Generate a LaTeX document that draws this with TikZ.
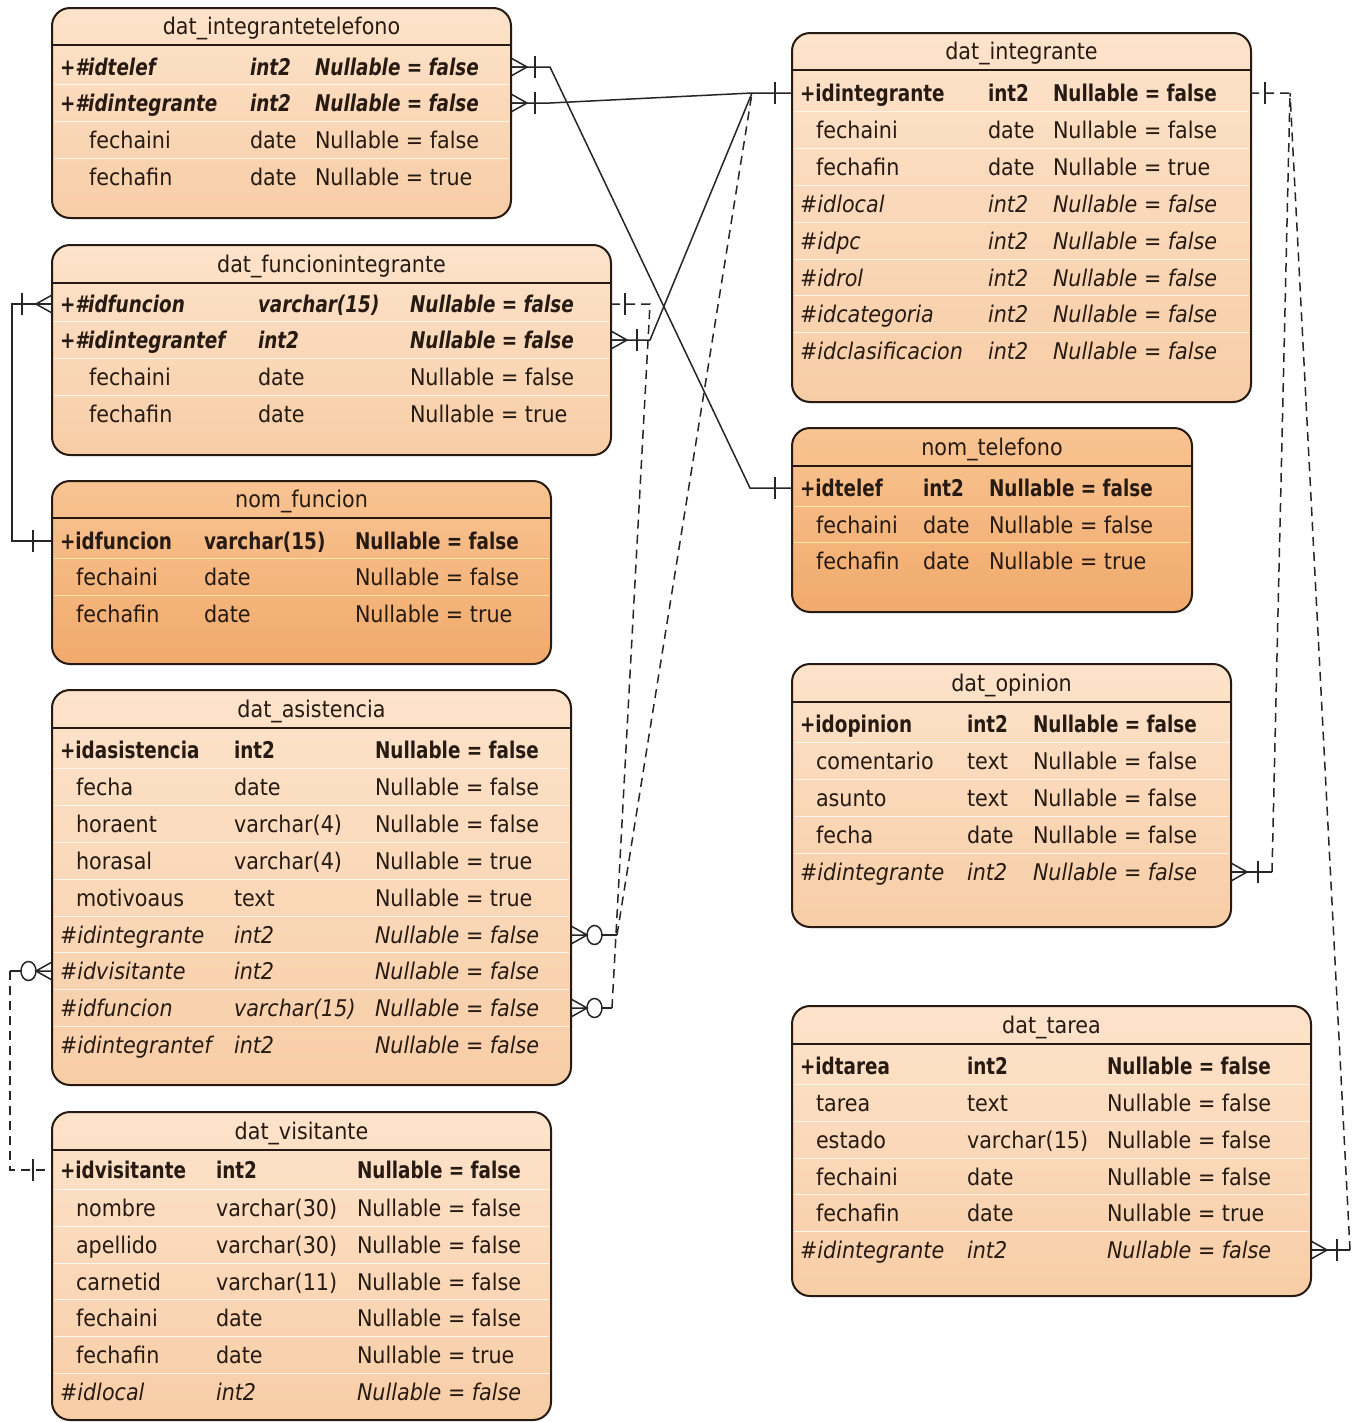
\documentclass[tikz,border=0pt]{standalone}
\usepackage{fontspec}
\setmainfont{DejaVu Sans}[FakeStretch=0.9,BoldFeatures={FakeStretch=0.8},BoldItalicFeatures={FakeStretch=0.8}]
\usetikzlibrary{calc}

\definecolor{ink}{RGB}{38,26,18}
\definecolor{lightTop}{RGB}{253,227,203}
\definecolor{lightBot}{RGB}{247,205,166}
\definecolor{darkTop}{RGB}{248,196,146}
\definecolor{darkBot}{RGB}{241,170,108}
\definecolor{rowsepL}{RGB}{255,247,238}
\definecolor{rowsepD}{RGB}{255,232,165}

\tikzset{
  tbox/.style={draw=ink, line width=2pt, rounded corners=18pt, inner sep=0pt, outer sep=0pt},
  tblL/.style={top color=lightTop, bottom color=lightBot},
  tblD/.style={top color=darkTop, bottom color=darkBot},
  hline/.style={draw=ink, line width=2pt},
  rowsep/.style={line width=1.3pt},
  cell/.style={anchor=base west, inner sep=0pt, outer sep=0pt, text=ink,
               font=\fontsize{23}{27}\selectfont},
  rel/.style={draw=black!85, line width=1.5pt},
  reld/.style={rel, dash pattern=on 9pt off 6pt},
  crowfoot/.pic={\draw[rel] (0,-9) -- (16,0) -- (0,9) (0,0) -- (16,0);},
  onebar/.pic={\draw[rel] (0,-11) -- (0,11);},
  zero/.pic={\draw[rel] (0,0) ellipse [x radius=7.5pt, y radius=9.5pt];},
}

% table frame: name, x1, y1, x2, y2, header line y, title, L/D
\newcommand\etable[8]{%
  \def\tx{#2}\def\tX{#4}\def\sepc{rowsep#8}%
  \node[tbox,tbl#8,anchor=north west,
        minimum width={(#4-#2)*1pt},minimum height={(#5-#3)*1pt}] (#1) at (#2,#3) {};
  \draw[hline] (#2+1,#6) -- (#4-1,#6);
  \node[cell,anchor=base] (#1-title) at ({(#2+#4)/2},#6-11) {#7};
}
\newcommand\ecols[3]{\def\ca{#1}\def\cb{#2}\def\cc{#3}}
% table row: table, index, y, font switch, column name, type, nullability
\newcommand\erow[7]{%
  \coordinate (#1-#2) at (\ca,#3);
  \ifnum#2>1 \draw[rowsep,draw=\sepc] (\tx+2,#3-18.5) -- (\tX-2,#3-18.5);\fi
  \node[cell] (#1-#2-n) at (\ca,#3+8) {#4#5};
  \node[cell] (#1-#2-t) at (\cb,#3+8) {#4#6};
  \node[cell] (#1-#2-v) at (\cc,#3+8) {#4#7};
}
\newcommand\indA{\hspace*{16pt}}
\newcommand\indB{\hspace*{29pt}}
\newcommand\NF{Nullable = false}
\newcommand\NT{Nullable = true}

\begin{document}
\begin{tikzpicture}[x=1pt,y=-1pt]
\useasboundingbox[fill=white] (0,0) rectangle (1367,1422);

% ---------- dat_integrantetelefono ----------
\etable{iT}{52}{8}{511}{218}{45}{dat\_integrantetelefono}{L}
\ecols{60}{250}{315}
\erow{iT}{1}{67}{\bfseries\itshape}{+\#idtelef}{int2}{\NF}
\erow{iT}{2}{103}{\bfseries\itshape}{+\#idintegrante}{int2}{\NF}
\erow{iT}{3}{140}{}{\indB fechaini}{date}{\NF}
\erow{iT}{4}{177}{}{\indB fechafin}{date}{\NT}

% ---------- dat_funcionintegrante ----------
\etable{fI}{52}{245}{611}{455}{283}{dat\_funcionintegrante}{L}
\ecols{60}{258}{410}
\erow{fI}{1}{304}{\bfseries\itshape}{+\#idfuncion}{varchar(15)}{\NF}
\erow{fI}{2}{340}{\bfseries\itshape}{+\#idintegrantef}{int2}{\NF}
\erow{fI}{3}{377}{}{\indB fechaini}{date}{\NF}
\erow{fI}{4}{414}{}{\indB fechafin}{date}{\NT}

% ---------- nom_funcion ----------
\etable{nF}{52}{481}{551}{664}{518}{nom\_funcion}{D}
\ecols{60}{204}{355}
\erow{nF}{1}{541}{\bfseries}{+idfuncion}{varchar(15)}{\NF}
\erow{nF}{2}{577}{}{\indA fechaini}{date}{\NF}
\erow{nF}{3}{614}{}{\indA fechafin}{date}{\NT}

% ---------- dat_asistencia ----------
\etable{dA}{52}{690}{571}{1085}{728}{dat\_asistencia}{L}
\ecols{60}{234}{375}
\erow{dA}{1}{750}{\bfseries}{+idasistencia}{int2}{\NF}
\erow{dA}{2}{787}{}{\indA fecha}{date}{\NF}
\erow{dA}{3}{824}{}{\indA horaent}{varchar(4)}{\NF}
\erow{dA}{4}{861}{}{\indA horasal}{varchar(4)}{\NT}
\erow{dA}{5}{898}{}{\indA motivoaus}{text}{\NT}
\erow{dA}{6}{935}{\itshape}{\#idintegrante}{int2}{\NF}
\erow{dA}{7}{971}{\itshape}{\#idvisitante}{int2}{\NF}
\erow{dA}{8}{1008}{\itshape}{\#idfuncion}{varchar(15)}{\NF}
\erow{dA}{9}{1045}{\itshape}{\#idintegrantef}{int2}{\NF}

% ---------- dat_visitante ----------
\etable{dV}{52}{1112}{551}{1420}{1150}{dat\_visitante}{L}
\ecols{60}{216}{357}
\erow{dV}{1}{1170}{\bfseries}{+idvisitante}{int2}{\NF}
\erow{dV}{2}{1208}{}{\indA nombre}{varchar(30)}{\NF}
\erow{dV}{3}{1245}{}{\indA apellido}{varchar(30)}{\NF}
\erow{dV}{4}{1282}{}{\indA carnetid}{varchar(11)}{\NF}
\erow{dV}{5}{1318}{}{\indA fechaini}{date}{\NF}
\erow{dV}{6}{1355}{}{\indA fechafin}{date}{\NT}
\erow{dV}{7}{1392}{\itshape}{\#idlocal}{int2}{\NF}

% ---------- dat_integrante ----------
\etable{dI}{792}{33}{1251}{402}{70}{dat\_integrante}{L}
\ecols{800}{988}{1053}
\erow{dI}{1}{93}{\bfseries}{+idintegrante}{int2}{\NF}
\erow{dI}{2}{130}{}{\indA fechaini}{date}{\NF}
\erow{dI}{3}{167}{}{\indA fechafin}{date}{\NT}
\erow{dI}{4}{204}{\itshape}{\#idlocal}{int2}{\NF}
\erow{dI}{5}{241}{\itshape}{\#idpc}{int2}{\NF}
\erow{dI}{6}{278}{\itshape}{\#idrol}{int2}{\NF}
\erow{dI}{7}{314}{\itshape}{\#idcategoria}{int2}{\NF}
\erow{dI}{8}{351}{\itshape}{\#idclasificacion}{int2}{\NF}

% ---------- nom_telefono ----------
\etable{nT}{792}{428}{1192}{612}{466}{nom\_telefono}{D}
\ecols{800}{923}{989}
\erow{nT}{1}{488}{\bfseries}{+idtelef}{int2}{\NF}
\erow{nT}{2}{525}{}{\indA fechaini}{date}{\NF}
\erow{nT}{3}{561}{}{\indA fechafin}{date}{\NT}

% ---------- dat_opinion ----------
\etable{dO}{792}{664}{1231}{927}{702}{dat\_opinion}{L}
\ecols{800}{967}{1033}
\erow{dO}{1}{724}{\bfseries}{+idopinion}{int2}{\NF}
\erow{dO}{2}{761}{}{\indA comentario}{text}{\NF}
\erow{dO}{3}{798}{}{\indA asunto}{text}{\NF}
\erow{dO}{4}{835}{}{\indA fecha}{date}{\NF}
\erow{dO}{5}{872}{\itshape}{\#idintegrante}{int2}{\NF}

% ---------- dat_tarea ----------
\etable{dT}{792}{1006}{1311}{1296}{1044}{dat\_tarea}{L}
\ecols{800}{967}{1107}
\erow{dT}{1}{1066}{\bfseries}{+idtarea}{int2}{\NF}
\erow{dT}{2}{1103}{}{\indA tarea}{text}{\NF}
\erow{dT}{3}{1140}{}{\indA estado}{varchar(15)}{\NF}
\erow{dT}{4}{1177}{}{\indA fechaini}{date}{\NF}
\erow{dT}{5}{1213}{}{\indA fechafin}{date}{\NT}
\erow{dT}{6}{1250}{\itshape}{\#idintegrante}{int2}{\NF}

% ---------- relationship routing points ----------
\coordinate (hub)  at (752,93);
\coordinate (telJ) at (750,488);
\coordinate (funJ) at (650,304);
\coordinate (intJ) at (1290,93);

% dat_integrantetelefono.idtelef -> nom_telefono
\draw[rel] (iT.east |- iT-1) -- ++(39,0) -- (telJ) -- (nT.west |- nT-1);
\pic at (iT.east |- iT-1) {crowfoot};
\pic at ($(iT.east |- iT-1)+(24,0)$) {onebar};
\pic at ($(nT.west |- nT-1)+(-17,0)$) {onebar};

% dat_integrantetelefono.idintegrante -> dat_integrante
\draw[rel] (iT.east |- iT-2) -- ++(39,0) -- (hub) -- (dI.west |- dI-1);
\pic at (iT.east |- iT-2) {crowfoot};
\pic at ($(iT.east |- iT-2)+(24,0)$) {onebar};
\pic at ($(dI.west |- dI-1)+(-17,0)$) {onebar};

% dat_funcionintegrante.idintegrantef -> dat_integrante
\draw[rel] (fI.east |- fI-2) -- ++(39,0) -- (hub);
\pic at (fI.east |- fI-2) {crowfoot};
\pic at ($(fI.east |- fI-2)+(26,0)$) {onebar};

% dat_funcionintegrante.idfuncion -> nom_funcion
\draw[rel] (fI.west |- fI-1) -- ++(-40,0) |- (nF.west |- nF-1);
\pic[xscale=-1] at (fI.west |- fI-1) {crowfoot};
\pic at ($(fI.west |- fI-1)+(-30,0)$) {onebar};
\pic at ($(nF.west |- nF-1)+(-19,0)$) {onebar};

% dat_asistencia.idintegrante -> dat_integrante
\pic at (dA.east |- dA-6) {crowfoot};
\pic at ($(dA.east |- dA-6)+(23.5,0)$) {zero};
\draw[rel] ($(dA.east |- dA-6)+(31,0)$) -- ++(15,0) coordinate (eE);
\draw[reld] (eE) -- (hub);

% dat_asistencia.idfuncion -> dat_funcionintegrante
\pic at (dA.east |- dA-8) {crowfoot};
\pic at ($(dA.east |- dA-8)+(23.5,0)$) {zero};
\draw[rel] ($(dA.east |- dA-8)+(31,0)$) -- ++(10,0) coordinate (fE);
\draw[reld] (fE) -- (funJ) -- (fI.east |- fI-1);
\pic at ($(fI.east |- fI-1)+(14,0)$) {onebar};

% dat_asistencia.idvisitante -> dat_visitante
\pic[xscale=-1] at (dA.west |- dA-7) {crowfoot};
\pic at ($(dA.west |- dA-7)+(-23.5,0)$) {zero};
\draw[rel] ($(dA.west |- dA-7)+(-31,0)$) -- ++(-11,0) coordinate (vE);
\draw[reld] (vE) |- (dV.west |- dV-1);
\pic at ($(dV.west |- dV-1)+(-19,0)$) {onebar};

% dat_opinion.idintegrante -> dat_integrante
\pic at (dO.east |- dO-5) {crowfoot};
\pic at ($(dO.east |- dO-5)+(27,0)$) {onebar};
\draw[rel] (dO.east |- dO-5) -- ++(41,0) coordinate (gE);
\draw[reld] (gE) -- (intJ) -- (dI.east |- dI-1);
\pic at ($(dI.east |- dI-1)+(14,0)$) {onebar};

% dat_tarea.idintegrante -> dat_integrante
\pic at (dT.east |- dT-6) {crowfoot};
\pic at ($(dT.east |- dT-6)+(26,0)$) {onebar};
\draw[rel] (dT.east |- dT-6) -- ++(39,0) coordinate (hE);
\draw[reld] (hE) -- (intJ);
\end{tikzpicture}
\end{document}
